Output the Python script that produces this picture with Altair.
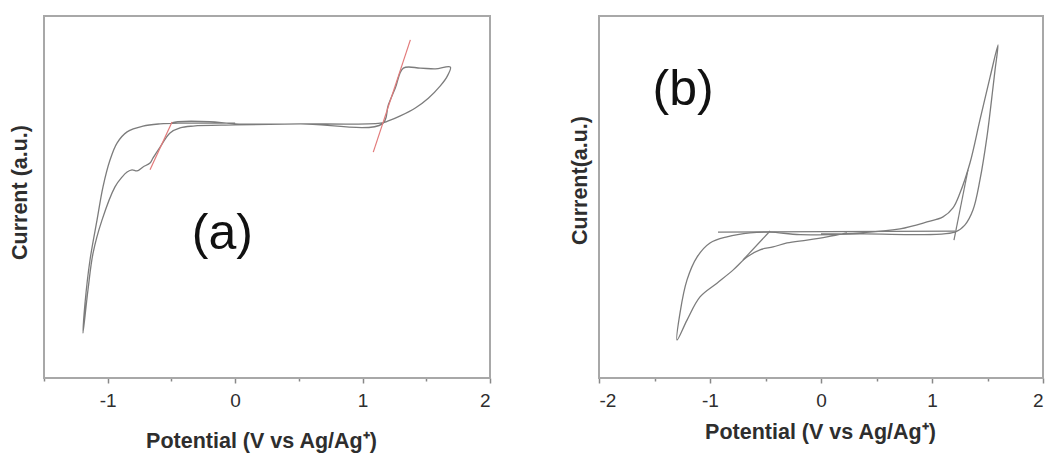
import altair as alt
import pandas as pd

# ---------------- Panel (a) data ----------------
a_x = [0.000, -0.275, -0.432, -0.589, -0.723, -0.848, -0.927, -0.982, -1.037, -1.084, -1.139, -1.178, -1.194,
       -1.155, -1.115, -1.045, -0.943, -0.888, -0.848, -0.809, -0.770, -0.723, -0.668, -0.644, -0.589, -0.511,
       -0.432, -0.330, 0.000, 0.511, 1.155,
       1.202, 1.257, 1.320, 1.453, 1.571, 1.689,
       1.665, 1.610, 1.516, 1.414, 1.296, 1.202, 1.139, 0.511, 0.000, -0.200, -0.450, -0.500]
a_y = [70.4, 70.4, 70.4, 70.2, 69.6, 68.0, 64.9, 60.2, 52.8, 43.6, 32.6, 20.7, 12.4,
       24.3, 34.5, 43.6, 52.8, 55.5, 56.9, 57.5, 57.2, 58.3, 59.4, 60.8, 63.8, 67.7,
       69.1, 69.6, 69.9, 70.2, 70.2,
       75.4, 80.1, 85.6, 85.6, 85.4, 85.9,
       83.4, 80.7, 77.3, 74.6, 72.4, 71.0, 70.4, 70.2, 70.2, 70.8, 70.8, 70.5]

# red tangent lines of panel (a)
a_red_id = ["r1", "r1", "r2", "r2"]
a_red_x = [1.375, 1.084, -0.495, -0.668]
a_red_y = [93.4, 62.4, 70.7, 57.5]

# ---------------- Panel (b) data ----------------
b_x = [0.000, 0.351, 0.712, 0.955, 1.099, 1.189, 1.252, 1.342, 1.432, 1.523, 1.595,
       1.568, 1.550, 1.495, 1.432, 1.369, 1.297, 1.207, 0.351, -0.189, -0.459,
       -0.640, -0.847, -1.000, -1.117, -1.207, -1.270, -1.297,
       -1.207, -1.090, -0.937, -0.793, -0.667, -0.550, -0.432, -0.306, -0.126, 0.054, 0.234]
b_y = [39.8, 40.1, 41.2, 43.1, 44.5, 47.0, 51.1, 59.4, 71.3, 83.1, 92.0,
       85.1, 80.4, 66.6, 54.7, 46.4, 42.3, 40.3, 39.8, 39.6, 40.3,
       40.1, 39.0, 37.3, 33.4, 27.1, 18.0, 10.5,
       16.0, 22.4, 26.2, 29.8, 33.4, 35.4, 36.2, 37.3, 38.1, 39.0, 40.1]

# grey construction lines of panel (b)
b_aux_id = ["l1", "l1", "l2", "l2", "l3", "l3"]
b_aux_x = [-0.928, 1.207, 1.198, 1.324, -0.459, -0.703]
b_aux_y = [40.3, 40.6, 38.1, 57.5, 40.6, 32.6]

# axis extents and ticks
a_domain = [-1.5, 2]
b_domain = [-2, 2]
y_domain = [0, 100]
a_ticks = [-1.5, -1, -0.5, 0, 0.5, 1, 1.5, 2]
b_ticks = [-2, -1.5, -1, -0.5, 0, 0.5, 1, 1.5, 2]

x_title = "Potential (V vs Ag/Ag⁺)"
curve_color = "#7c7c7c"
frame_color = "#a8a8a8"
text_color = "#2e2e2e"
font = "Liberation Sans"

df_a = pd.DataFrame({"x": a_x, "y": a_y, "i": range(len(a_x))})
df_ar = pd.DataFrame({"id": a_red_id, "x": a_red_x, "y": a_red_y})
df_b = pd.DataFrame({"x": b_x, "y": b_y, "i": range(len(b_x))})
df_bl = pd.DataFrame({"id": b_aux_id, "x": b_aux_x, "y": b_aux_y})

# panel placement (pixel ranges of each panel's scales)
sx_a = alt.Scale(domain=a_domain, range=[44, 490], nice=False, zero=False)
sx_b = alt.Scale(domain=b_domain, range=[599, 1043], nice=False, zero=False)
sy = alt.Scale(domain=y_domain, range=[378, 16], nice=False, zero=False)

label_expr = "datum.value % 1 == 0 ? '' + datum.value : ''"
tick_size = {"condition": {"test": "datum.value % 1 == 0", "value": 5}, "value": 3}


def x_axis(vals, tx, ty):
    return alt.Axis(orient="bottom", values=vals, labelExpr=label_expr, title=x_title,
                    titleX=tx, titleY=ty, titleBaseline="middle", titleAlign="center",
                    tickSize=tick_size, grid=False, domain=False)


def y_axis(title, tx, ty):
    return alt.Axis(orient="left", title=title, labels=False, ticks=False, grid=False,
                    domain=False, titleX=tx, titleY=ty, titleAngle=270,
                    titleBaseline="middle", titleAlign="center")


def panel(df_curve, df_extra, extra_color, sx, ticks, dom, xax, yax, lab, lab_x, lab_y):
    frame = alt.Chart(pd.DataFrame({"x": [dom[0]], "x2": [dom[1]], "y": [y_domain[0]], "y2": [y_domain[1]]})).mark_rect(
        fillOpacity=0, stroke=frame_color, strokeWidth=2).encode(
        x=alt.X("x:Q", scale=sx, axis=xax), x2="x2:Q",
        y=alt.Y("y:Q", scale=sy, axis=yax), y2="y2:Q")
    curve = alt.Chart(df_curve).mark_line(color=curve_color, strokeWidth=1.3, interpolate="catmull-rom").encode(
        x=alt.X("x:Q", scale=sx), y=alt.Y("y:Q", scale=sy), order="i:Q")
    extra = alt.Chart(df_extra).mark_line(color=extra_color, strokeWidth=1.2).encode(
        x=alt.X("x:Q", scale=sx), y=alt.Y("y:Q", scale=sy), detail="id:N")
    text = alt.Chart(pd.DataFrame({"x": [lab_x], "y": [lab_y], "t": [lab]})).mark_text(
        fontSize=50, font=font, color="#111111").encode(
        x=alt.X("x:Q", scale=sx), y=alt.Y("y:Q", scale=sy), text="t:N")
    return alt.layer(frame, curve, extra, text)


panel_a = panel(df_a, df_ar, "#e27a7a", sx_a, a_ticks, a_domain,
                x_axis(a_ticks, 261, 63), y_axis("Current (a.u.)", 20, 192), "(a)", -0.10, 39.8)
panel_b = panel(df_b, df_bl, curve_color, sx_b, b_ticks, b_domain,
                x_axis(b_ticks, 820, 54), y_axis("Current(a.u.)", 580, 180), "(b)", -1.243, 79.6)

chart = alt.layer(panel_a, panel_b).resolve_scale(
    x="independent", y="independent"
).resolve_axis(
    x="independent", y="independent"
).properties(
    width=1052, height=378,
    autosize=alt.AutoSizeParams(type="none"),
    padding={"left": 0, "top": 0, "right": 0, "bottom": 82},
    background="white",
).configure_view(
    stroke=None
).configure_axis(
    tickColor="#888888", tickWidth=1.5,
    labelFont=font, labelFontSize=19, labelColor=text_color, labelPadding=8,
    titleFont=font, titleFontSize=21.5, titleFontWeight="bold", titleColor=text_color,
)

chart.save("out.html", embed_options={"renderer": "svg", "actions": False})
